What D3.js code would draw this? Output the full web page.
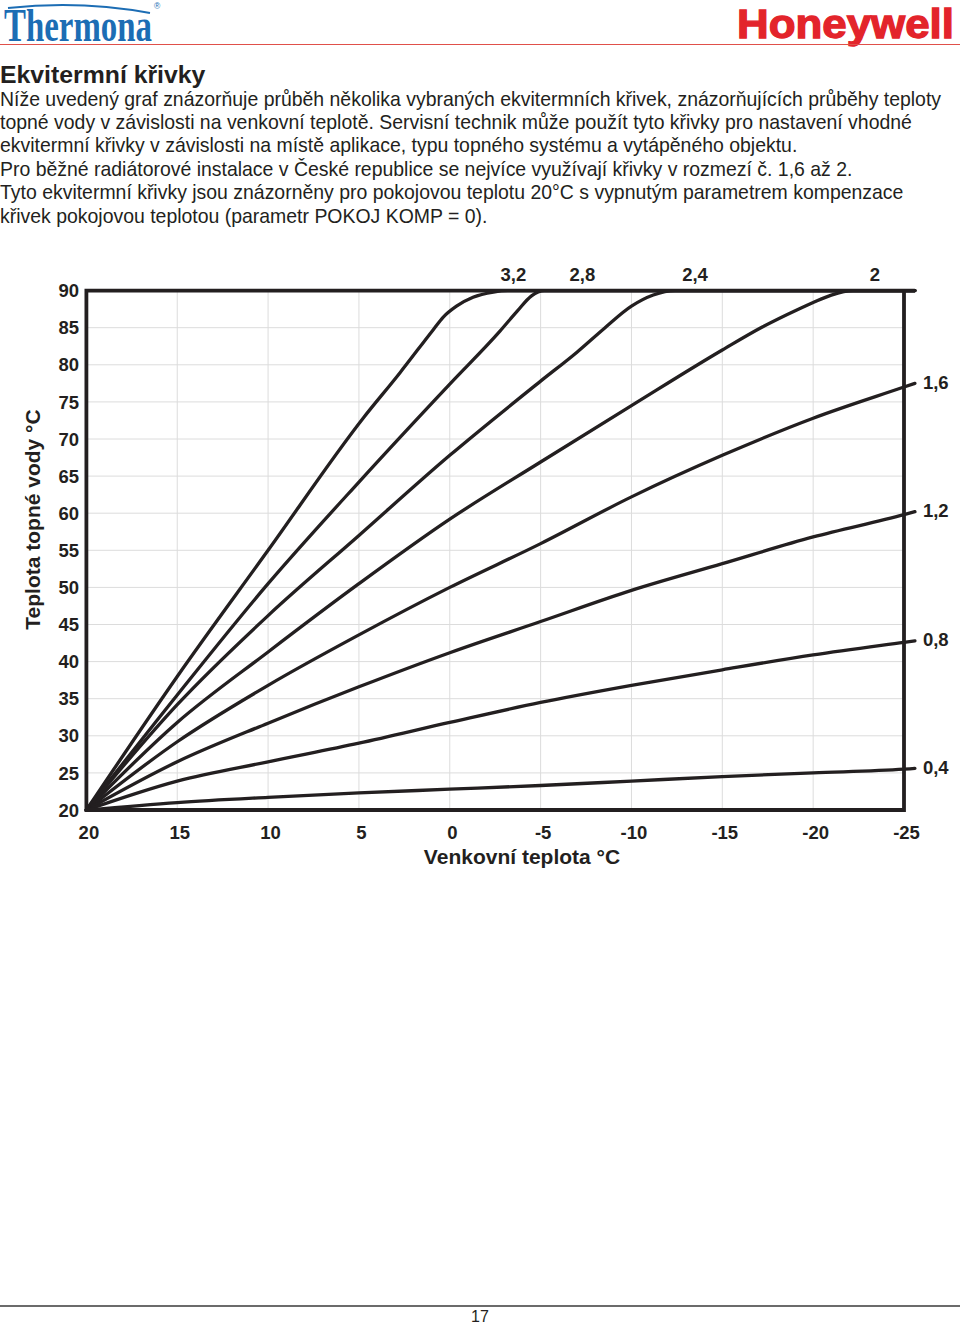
<!DOCTYPE html>
<html><head><meta charset="utf-8">
<script src="https://cdn.jsdelivr.net/npm/d3@7"></script>
<style>body{margin:0;background:#fff} svg{display:block}</style>
</head><body>
<svg id="c" width="960" height="1324"></svg>
<script>
// ---------------- data ----------------
const xTicks = [20, 15, 10, 5, 0, -5, -10, -15, -20, -25];
const yTicks = [20, 25, 30, 35, 40, 45, 50, 55, 60, 65, 70, 75, 80, 85, 90];
const xTickLabels = ["20","15","10","5","0","-5","-10","-15","-20","-25"];
const yTickLabels = ["20","25","30","35","40","45","50","55","60","65","70","75","80","85","90"];

// [outdoor temperature °C, heating water temperature °C]
const curve32 = [[20,20],[15,38],[10,55],[4.77,72.8],[2.75,78.9],[0.92,84.7],[0.37,86.4],[-0.37,87.9],[-1.28,89.1],[-2.4,89.8],[-3.2,90],[-25.6,90]];
const curve28 = [[20,20],[15,35.5],[10,50.5],[5,64.2],[0,77.4],[-2.75,84.5],[-3.7,87.2],[-4.5,89.3],[-5.2,90],[-25.6,90]];
const curve24 = [[20,20],[15,34.2],[10,46.2],[5,57.0],[0,67.8],[-5,77.8],[-7,81.7],[-8.5,84.9],[-10,87.9],[-11.2,89.4],[-12.4,90],[-25.6,90]];
const curve20 = [[20,20],[15,31.8],[10,41.3],[5,50.5],[0,59.2],[-5,66.9],[-10,74.5],[-15,82.0],[-17.2,85.1],[-19.1,87.4],[-20,88.4],[-21,89.4],[-22.2,90],[-25.6,90]];
const curve16 = [[20,20],[15,29.2],[10,36.8],[5,43.6],[0,50.0],[-5,55.9],[-10,62.2],[-15,67.8],[-20,72.8],[-25,77.0],[-25.6,77.5]];
const curve12 = [[20,20],[15,26.5],[10,31.7],[5,36.6],[0,41.2],[-5,45.4],[-10,49.6],[-15,53.2],[-20,56.8],[-25,59.8],[-25.6,60.2]];
const curve08 = [[20,20],[15,23.9],[10,26.5],[5,29.0],[0,31.8],[-5,34.5],[-10,36.8],[-15,38.9],[-20,40.9],[-25,42.6],[-25.6,42.8]];
const curve04 = [[20,20],[15,21.0],[10,21.7],[5,22.3],[0,22.8],[-5,23.3],[-10,23.9],[-15,24.5],[-20,25.0],[-25,25.5],[-25.6,25.6]];

const curves = [curve32, curve28, curve24, curve20, curve16, curve12, curve08, curve04];
const curveNames = ["3,2", "2,8", "2,4", "2", "1,6", "1,2", "0,8", "0,4"];
// outdoor temperature above which the name of a capped curve is written
const topLabelAt = [-3.5, -7.3, -13.5, -23.4];

const titleText = "Ekvitermní křivky";
const bodyLines = [
  "Níže uvedený graf znázorňuje průběh několika vybraných ekvitermních křivek, znázorňujících průběhy teploty",
  "topné vody v závislosti na venkovní teplotě. Servisní technik může použít tyto křivky pro nastavení vhodné",
  "ekvitermní křivky v závislosti na místě aplikace, typu topného systému a vytápěného objektu.",
  "Pro běžné radiátorové instalace v České republice se nejvíce využívají křivky v rozmezí č. 1,6 až 2.",
  "Tyto ekvitermní křivky jsou znázorněny pro pokojovou teplotu 20°C s vypnutým parametrem kompenzace",
  "křivek pokojovou teplotou (parametr POKOJ KOMP = 0)."
];
const xTitle = "Venkovní teplota °C";
const yTitle = "Teplota topné vody °C";
const pageNumber = "17";

// ---------------- drawing ----------------
const svg = d3.select("#c");
const ink = "#231f20";
const sans = "'Liberation Sans', Arial, Helvetica, sans-serif";

// header
const logo = svg.append("text").attr("x", 0).attr("y", 0)
  .attr("font-family", "'Liberation Serif', 'DejaVu Serif', serif").attr("font-weight", "bold")
  .attr("font-size", 45.5).attr("fill", "#1c6db4").text("Thermona");
const natW = logo.node().getComputedTextLength();
logo.attr("transform", `translate(4,41) scale(${148 / natW},1)`);
svg.append("path").attr("d", "M8,8 Q80,0 150,13").attr("fill", "none")
  .attr("stroke", "#1c6db4").attr("stroke-width", 2);
svg.append("text").attr("x", 154).attr("y", 9).attr("font-family", sans)
  .attr("font-size", 8.5).attr("fill", "#1c6db4").text("®");
svg.append("text").attr("x", 737).attr("y", 37.5)
  .attr("font-family", sans).attr("font-weight", "bold").attr("font-size", 41)
  .attr("fill", "#e3242b").attr("stroke", "#e3242b").attr("stroke-width", 1.3)
  .attr("textLength", 217).attr("lengthAdjust", "spacingAndGlyphs")
  .text("Honeywell");
svg.append("line").attr("x1", 0).attr("x2", 960).attr("y1", 44.5).attr("y2", 44.5)
  .attr("stroke", "#e0504a").attr("stroke-width", 1.2);

// title + body text
svg.append("text").attr("x", 0).attr("y", 83).attr("font-family", sans)
  .attr("font-weight", "bold").attr("font-size", 24.8).attr("fill", ink).text(titleText);

const body = svg.append("g").attr("font-family", sans).attr("fill", ink);
const bt = body.selectAll("text").data(bodyLines).join("text")
  .attr("x", 0).attr("y", (d, i) => 105.5 + i * 23.4)
  .attr("font-size", 18).text(d => d);
const firstLen = bt.node().getComputedTextLength();
bt.attr("font-size", 18 * 942 / firstLen);

// chart
const x = d3.scaleLinear().domain([20, -25]).range([86.4, 904]);
const y = d3.scaleLinear().domain([20, 90]).range([810, 290.6]);

const grid = svg.append("g").attr("stroke", "#dcdcdc").attr("stroke-width", 1);
grid.selectAll("line.v").data(xTicks.slice(1, -1)).join("line").attr("class", "v")
  .attr("x1", d => x(d)).attr("x2", d => x(d)).attr("y1", y(90)).attr("y2", y(20));
grid.selectAll("line.h").data(yTicks.slice(1, -1)).join("line").attr("class", "h")
  .attr("x1", x(20)).attr("x2", x(-25)).attr("y1", d => y(d)).attr("y2", d => y(d));

const line = d3.line().x(d => x(d[0])).y(d => y(d[1])).curve(d3.curveMonotoneX);
svg.append("g").selectAll("path").data(curves).join("path")
  .attr("d", line).attr("fill", "none").attr("stroke", ink)
  .attr("stroke-width", 3.3).attr("stroke-linejoin", "round").attr("stroke-linecap", "round");

// frame
const frame = svg.append("g").attr("stroke", ink).attr("stroke-width", 3.8).attr("fill", "none");
frame.append("path").attr("d",
  `M${x(-25.6)},${y(90)} L${x(20)},${y(90)} L${x(20)},${y(20)} L${x(-25)},${y(20)} L${x(-25)},${y(90)}`)
  .attr("stroke-linejoin", "miter");

// axes labels
const lab = svg.append("g").attr("font-family", sans).attr("font-weight", "bold")
  .attr("font-size", 18.5).attr("fill", ink);
lab.selectAll("text.yt").data(yTicks).join("text").attr("class", "yt")
  .attr("x", 79).attr("y", d => y(d)).attr("dy", "0.36em").attr("text-anchor", "end")
  .text((d, i) => yTickLabels[i]);
lab.selectAll("text.xt").data(xTicks).join("text").attr("class", "xt")
  .attr("x", d => x(d) + 2.5).attr("y", 838.5).attr("text-anchor", "middle")
  .text((d, i) => xTickLabels[i]);

// curve labels
lab.selectAll("text.top").data(topLabelAt).join("text").attr("class", "top")
  .attr("x", d => x(d)).attr("y", 280.5).attr("text-anchor", "middle")
  .text((d, i) => curveNames[i]);
lab.selectAll("text.right").data(curves.slice(4)).join("text").attr("class", "right")
  .attr("x", x(-25.6) + 8).attr("y", d => y(d[d.length - 1][1]) - 1.5).attr("dy", "0.36em")
  .text((d, i) => curveNames[i + 4]);

svg.append("text").attr("x", 522).attr("y", 864).attr("text-anchor", "middle")
  .attr("font-family", sans).attr("font-weight", "bold").attr("font-size", 21)
  .attr("fill", ink).text(xTitle);
svg.append("text").attr("transform", "translate(40,519.5) rotate(-90)")
  .attr("text-anchor", "middle")
  .attr("font-family", sans).attr("font-weight", "bold").attr("font-size", 21)
  .attr("fill", ink).text(yTitle);

// footer
svg.append("line").attr("x1", 0).attr("x2", 960).attr("y1", 1306).attr("y2", 1306)
  .attr("stroke", "#3a3a3a").attr("stroke-width", 1.3);
svg.append("text").attr("x", 480).attr("y", 1322).attr("text-anchor", "middle")
  .attr("font-family", "'Liberation Sans Narrow', " + sans).attr("font-size", 16)
  .attr("fill", ink).text(pageNumber);
</script>
</body></html>
